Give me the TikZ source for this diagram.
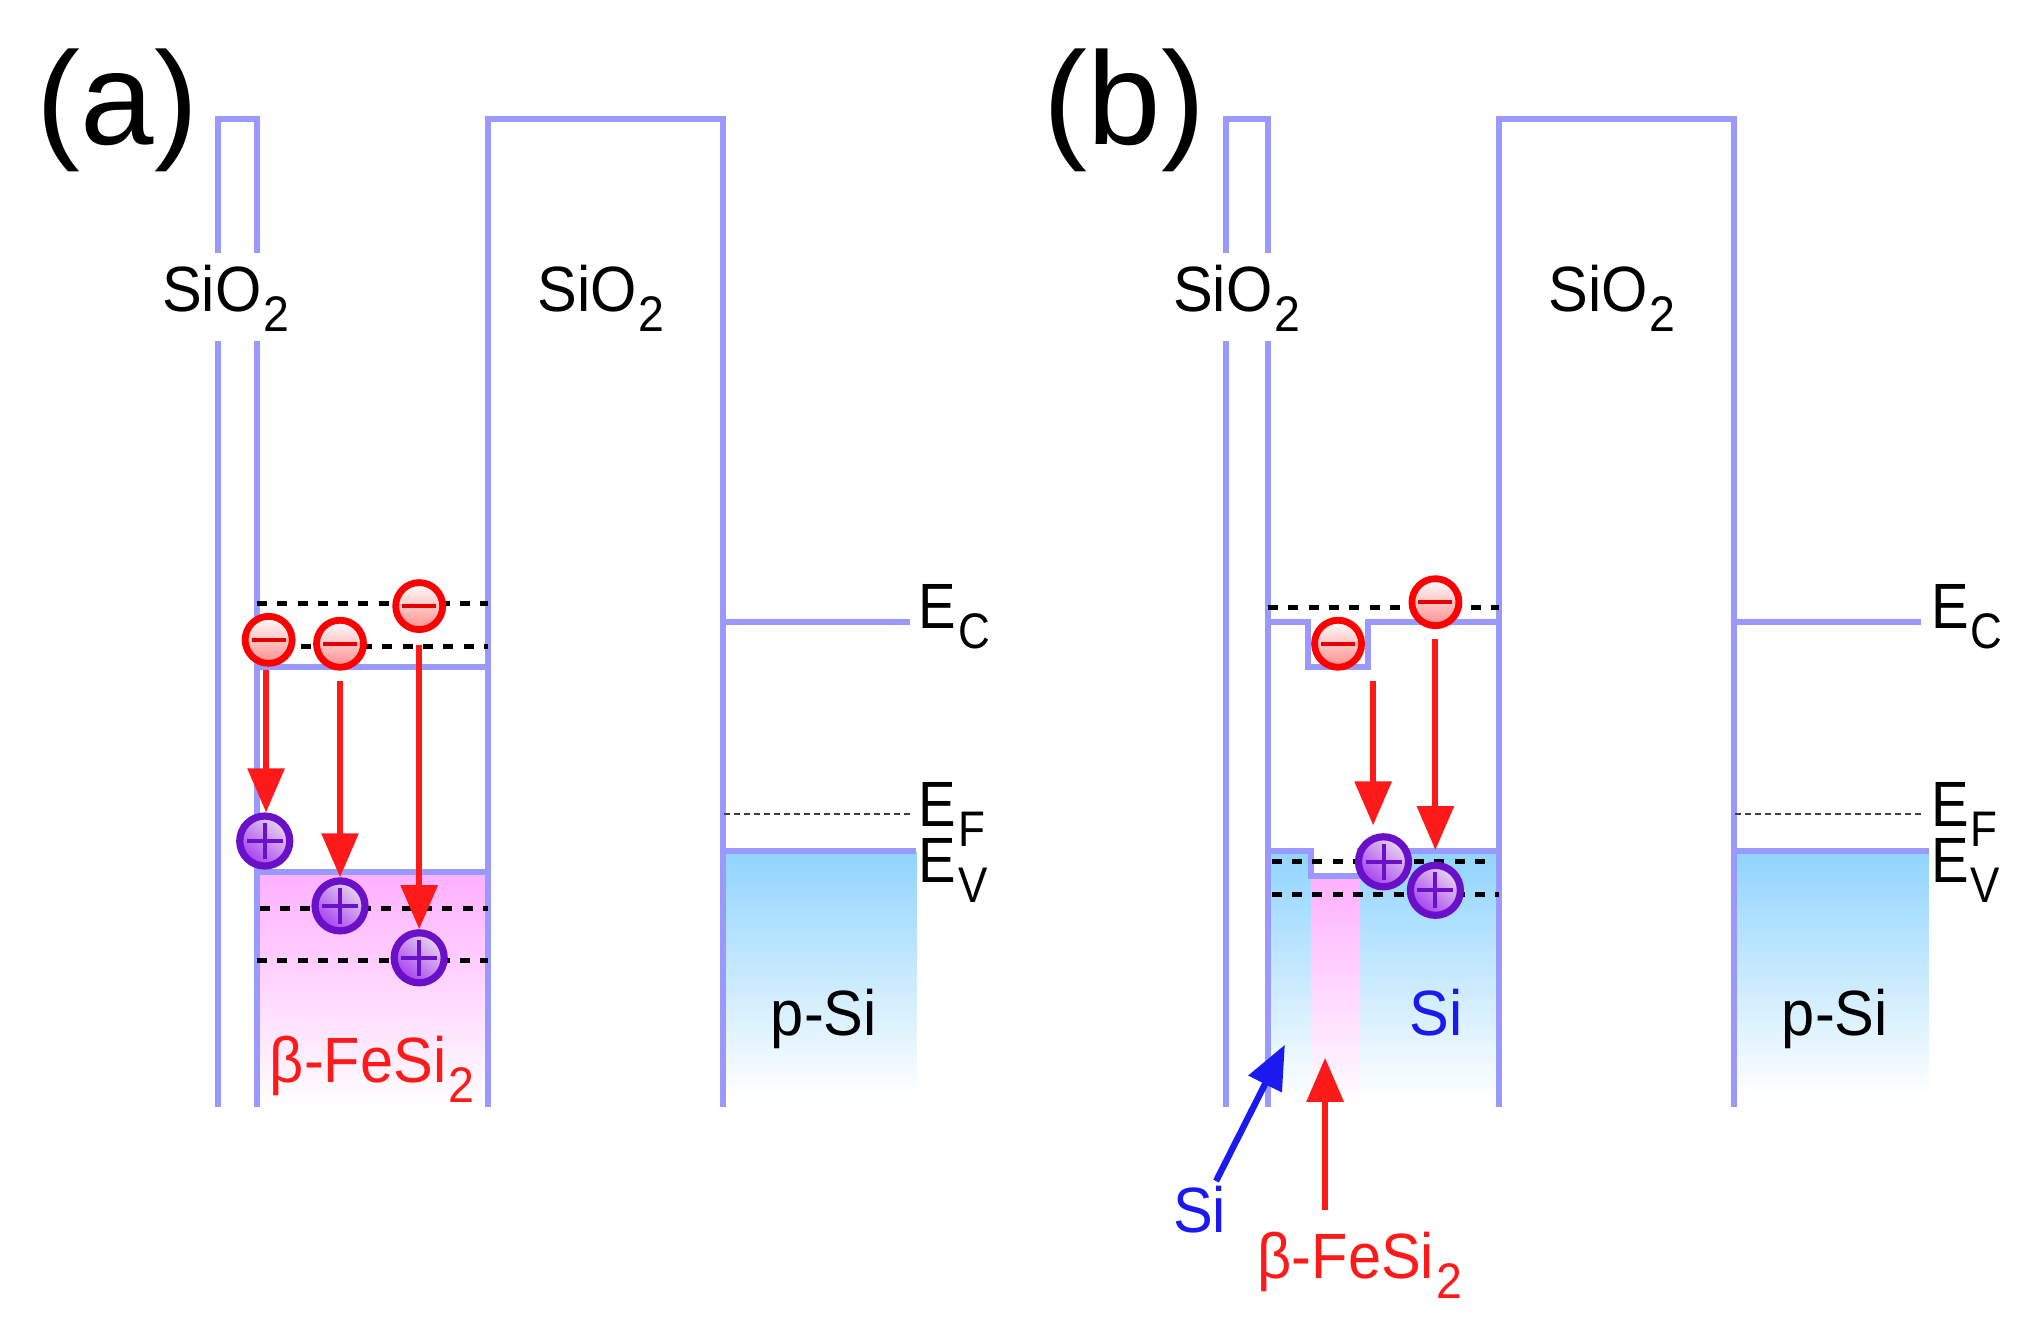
\documentclass[tikz,border=0pt]{standalone}
\usepackage{fontspec}
\setmainfont{Liberation Sans}
\newfontfamily\lab[FakeStretch=0.88]{Liberation Sans}
\newfontfamily\labw[FakeStretch=0.93]{Liberation Sans}
\usetikzlibrary{arrows.meta}
\definecolor{bandc}{HTML}{9999FF}
\definecolor{pinkc}{HTML}{FFB0FF}
\definecolor{bluec}{HTML}{90D4FF}
\definecolor{holec}{HTML}{6A10C8}
\definecolor{holelow}{HTML}{A63DF0}
\definecolor{holehigh}{HTML}{E8D8EE}
\definecolor{siblue}{HTML}{1A1AF0}
\definecolor{redc}{HTML}{FF1A1A}
\newcommand{\lowsub}[1]{\kern1pt\raisebox{-0.31em}{\fontsize{25}{25}\selectfont #1}}
\tikzset{
  x=0.64891pt,y=-0.64891pt,
  band/.style={draw=bandc,line width=3pt},
  pinkfill/.style={top color=pinkc,bottom color=white,draw=none},
  bluefill/.style={top color=bluec,bottom color=white,draw=none},
  level/.style={draw=black,line width=2.6pt,dash pattern=on 5pt off 5.15pt},
  fermi/.style={draw=black!75,line width=1.2pt,dash pattern=on 3pt off 2pt},
  rarrow/.style={draw=redc,line width=3pt,-{Triangle[length=22pt,width=18pt]}},
  barrow/.style={draw=siblue,line width=3.2pt,-{Triangle[length=22pt,width=18pt]}},
  txt/.style={anchor=base west,inner sep=0pt,outer sep=0pt,font=\lab\fontsize{32}{32}\selectfont},
  txtw/.style={txt,font=\labw\fontsize{32}{32}\selectfont},
  panel/.style={anchor=base west,inner sep=0pt,font=\fontsize{66}{66}\selectfont},
  electron/.style={circle,draw=red,line width=3.4pt,inner sep=0pt,minimum size=23.5pt,
    top color=white,bottom color=red!45,
    path picture={\draw[red!90!black,line width=2pt]
      ([xshift=-8.5pt]path picture bounding box.center)--([xshift=8.5pt]path picture bounding box.center);}},
  hole/.style={circle,draw=holec,line width=3.6pt,inner sep=0pt,minimum size=25pt,
    top color=holehigh,bottom color=holelow,shading angle=-40,
    path picture={\draw[holec,line width=2pt]
      ([xshift=-9pt]path picture bounding box.center)--([xshift=9pt]path picture bounding box.center)
      ([yshift=-9pt]path picture bounding box.center)--([yshift=9pt]path picture bounding box.center);}},
}
\begin{document}
\begin{tikzpicture}
\useasboundingbox (0,0) rectangle (1568,1024.1);
\fill[white] (0,0) rectangle (1568,1024.1);

% fills
\path[pinkfill] (198,672) rectangle (376,853);
\path[bluefill] (557,656) rectangle (706,845);
\path[bluefill] (977,656) rectangle (1155,848);
\fill[white] (1010,656) rectangle (1048,675);
\path[pinkfill] (1010,675) rectangle (1048,853);
\path[bluefill] (1336,656) rectangle (1486,845);

% panel (a) band lines
\draw[band] (168,195)--(168,92)--(198,92)--(198,195);
\draw[band] (168,263)--(168,853);
\draw[band] (198,263)--(198,853);
\draw[band] (376,853)--(376,92)--(557,92)--(557,853);
\draw[band] (198,514)--(376,514);
\draw[band] (198,672)--(376,672);
\draw[band] (557,479)--(701,479);
\draw[band] (557,656)--(706,656);
\draw[fermi] (558,627)--(701,627);
\draw[level] (198,465)--(376,465);
\draw[level] (232,498)--(376,498);
\draw[level] (200,700)--(376,700);
\draw[level] (198,740)--(376,740);

% panel (b) band lines
\draw[band] (945,195)--(945,92)--(977,92)--(977,195);
\draw[band] (945,263)--(945,853);
\draw[band] (977,263)--(977,853);
\draw[band] (1155,853)--(1155,92)--(1336,92)--(1336,853);
\draw[band] (977,479)--(1008,479)--(1008,514)--(1054,514)--(1054,479)--(1155,479);
\draw[band] (977,656)--(1010,656)--(1010,675)--(1048,675)--(1048,656)--(1155,656);
\draw[band] (1336,479)--(1480,479);
\draw[band] (1336,656)--(1486,656);
\draw[fermi] (1337,627)--(1480,627);
\draw[level] (977,468)--(1155,468);
\draw[level] (980,664)--(1150,664);
\draw[level] (980,689)--(1155,689);

% carriers, panel (a)
\node[hole] (ah1) at (204,648) {};
\node[hole] (ah2) at (262,698) {};
\node[hole] (ah3) at (323,738) {};
\node[electron] (ae1) at (207,493) {};
\node[electron] (ae2) at (262,496) {};
\node[electron] (ae3) at (323,467) {};

% carriers, panel (b)
\node[hole] (bh1) at (1066,664) {};
\node[hole] (bh2) at (1106,686) {};
\node[electron] (be1) at (1031,496) {};
\node[electron] (be2) at (1106,464) {};

% transition arrows
\coordinate (as1) at (205,516);
\coordinate (at1) at (205,626);
\coordinate (as2) at (262,525);
\coordinate (as3) at (323,497);
\coordinate (bs1) at (1058,525);
\coordinate (bt1) at (1058,636);
\coordinate (bs2) at (1106,492);
\coordinate (bt2) at (1106,655);
\draw[rarrow] (as1)--(at1);
\draw[rarrow] (as2)--(ah2.north);
\draw[rarrow] (as3)--(ah3.north);
\draw[rarrow] (bs1)--(bt1);
\draw[rarrow] (bs2)--(bt2);

% panel letters
\node[panel] (la) at (28,111) {(a)};
\node[panel] (lb) at (804,111) {(b)};

% labels, panel (a)
\node[txtw] (sa1) at (125,240) {SiO\lowsub{2}};
\node[txtw] (sa2) at (414,240) {SiO\lowsub{2}};
\node[txt] (eca) at (708,484) {E\lowsub{C}};
\node[txt] (efa) at (708,637) {E\lowsub{F}};
\node[txt] (eva) at (708,680) {E\lowsub{V}};
\node[txtw] (psa) at (594,798) {p-Si};
\node[txtw,text=redc] (fea) at (208,834) {β-FeSi\lowsub{2}};

% labels, panel (b)
\node[txtw] (sb1) at (904,240) {SiO\lowsub{2}};
\node[txtw] (sb2) at (1193,240) {SiO\lowsub{2}};
\node[txt] (ecb) at (1488,484) {E\lowsub{C}};
\node[txt] (efb) at (1488,637) {E\lowsub{F}};
\node[txt] (evb) at (1488,680) {E\lowsub{V}};
\node[txtw] (psb) at (1373,798) {p-Si};
\node[txtw,text=siblue] (sib) at (1086,798) {Si};
\node[txtw,text=siblue] (sil) at (904,950) {Si};
\node[txtw,text=redc] (feb) at (969,985) {β-FeSi\lowsub{2}};

% pointer arrows
\coordinate (psi) at (937,910);
\coordinate (tsi) at (990,805);
\coordinate (pfe) at (1021,932);
\coordinate (tfe) at (1021,815);
\draw[barrow] (psi)--(tsi);
\draw[rarrow] (pfe)--(tfe);
\end{tikzpicture}
\end{document}
